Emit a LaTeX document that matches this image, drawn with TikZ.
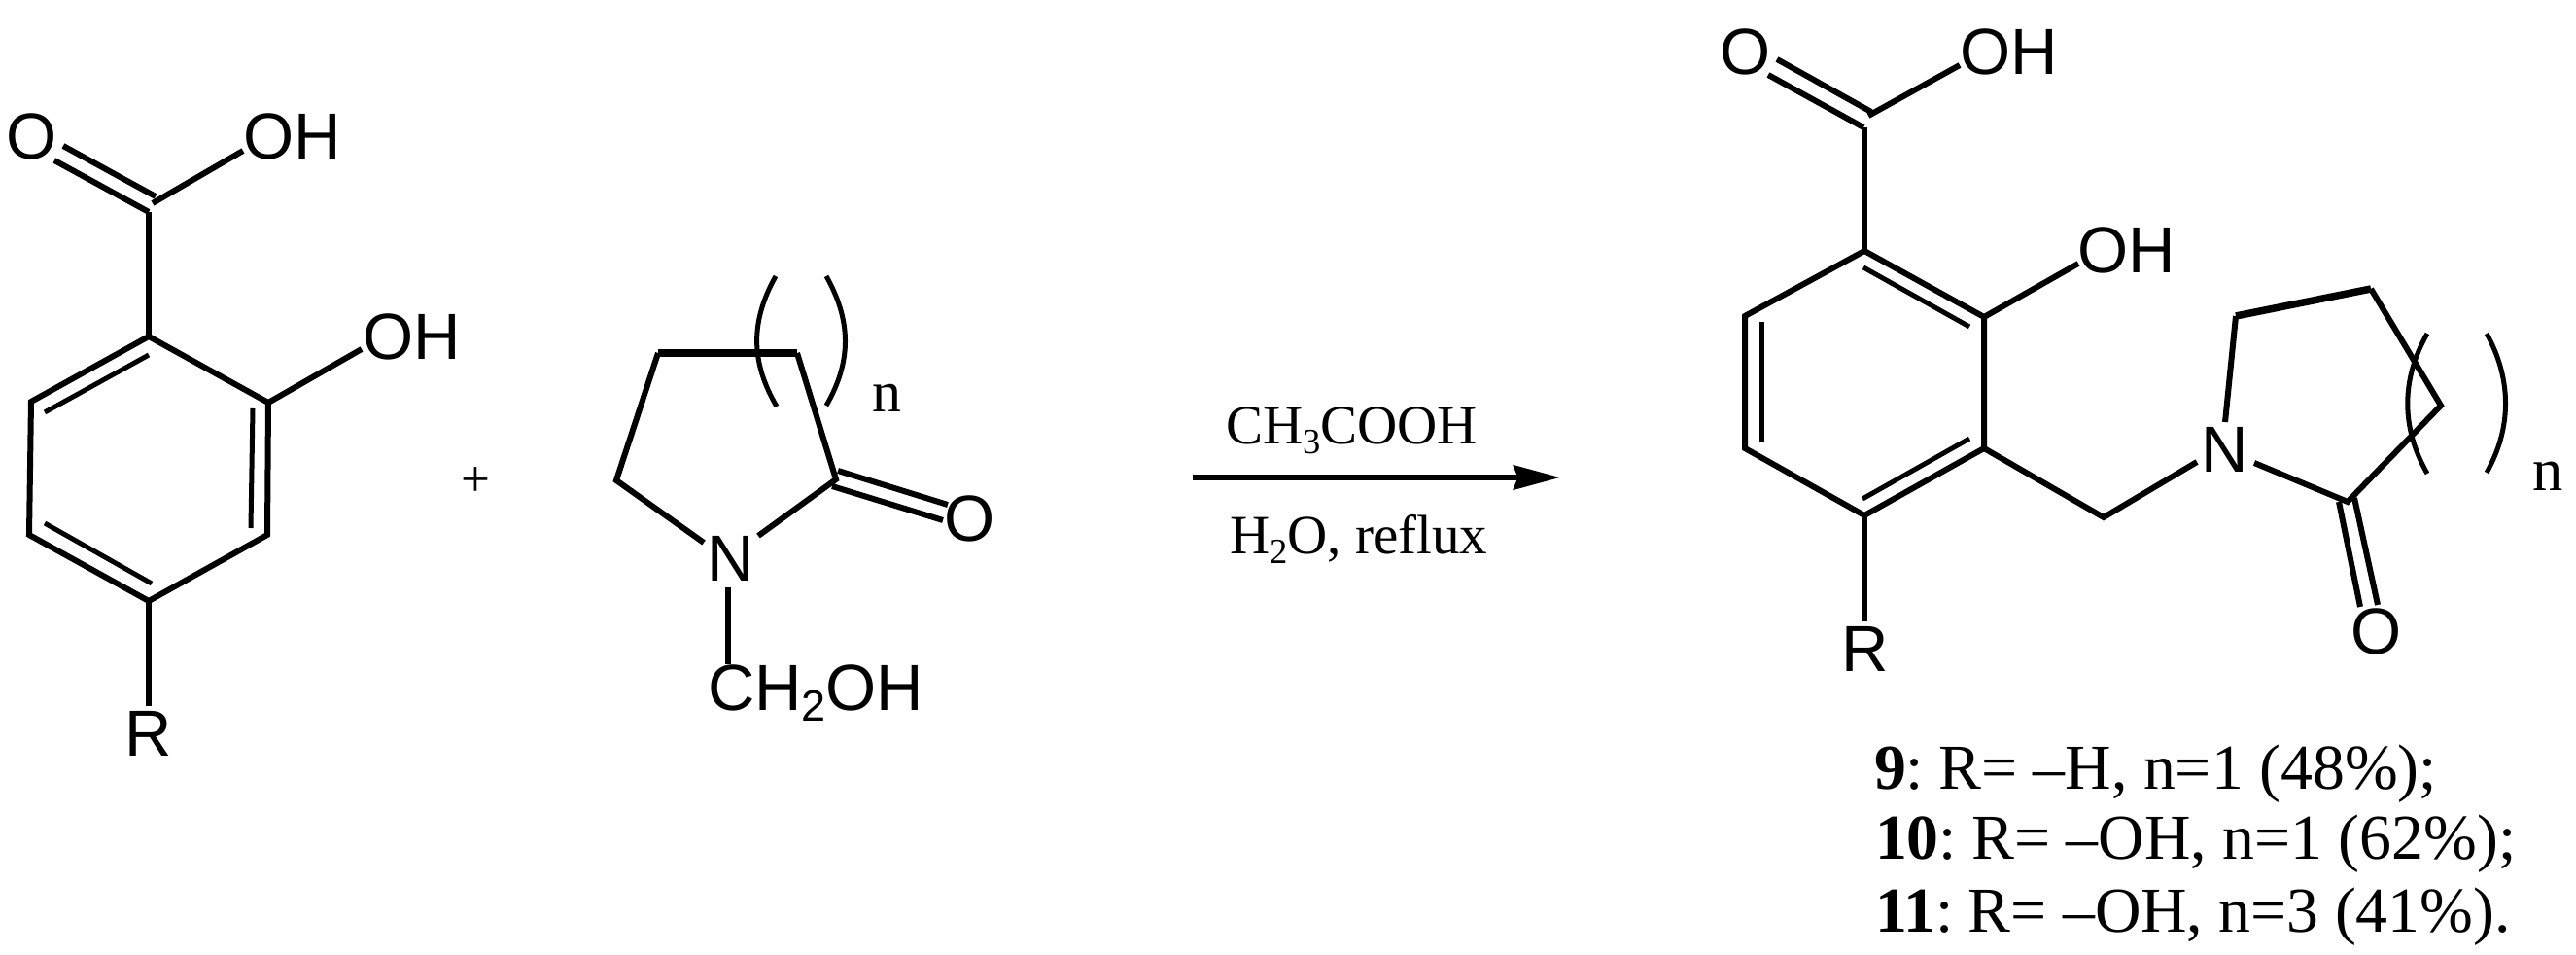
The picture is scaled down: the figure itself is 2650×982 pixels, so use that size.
\documentclass[tikz,border=0pt]{standalone}
\usepackage{fontspec}
\setmainfont{Liberation Serif}
\newfontfamily\arialf{Liberation Sans}
\usetikzlibrary{arrows.meta}
\newcommand{\lowtwo}[2]{\raisebox{#2}{\fontsize{#1}{#1}\selectfont 2}}
\newcommand{\lowthree}[2]{\raisebox{#2}{\fontsize{#1}{#1}\selectfont 3}}
\tikzset{
  bond/.style={line width=1.2pt,line join=miter,line cap=butt,black},
  heavybond/.style={line width=1.5pt,line cap=butt,black},
  inner/.style={line width=1pt,line cap=butt,black},
  paren/.style={line width=1pt,line cap=butt,black},
  atom/.style={inner sep=0pt,outer sep=0pt,anchor=base,font=\arialf\fontsize{13.4}{15}\selectfont},
  atomw/.style={atom,anchor=base west},
  serif/.style={inner sep=0pt,outer sep=0pt,font=\fontsize{11.4}{13}\selectfont},
  idx/.style={inner sep=0pt,outer sep=0pt,anchor=base,font=\fontsize{12}{14}\selectfont},
  yieldline/.style={inner sep=0pt,outer sep=0pt,anchor=base west,font=\fontsize{13.15}{15}\selectfont},
  rxnarrow/.style={line width=1.25pt,black,-{Stealth[length=9.6pt,width=5pt,inset=0.9pt]}}
}
\begin{document}
\begin{tikzpicture}[x=0.2pt,y=-0.2pt]
\useasboundingbox (0,0) rectangle (2650,982);
%% ---------- left acid ----------
\coordinate (a1) at (153,346);\coordinate (a2) at (276,414);\coordinate (a3) at (275,550);
\coordinate (a4) at (153,618);\coordinate (a5) at (30,550);\coordinate (a6) at (32,413);
\coordinate (aC) at (153,207);\coordinate (aCb) at (153,218);
\coordinate (aC1) at (160,202);\coordinate (aC2) at (153,218);
\coordinate (aO1) at (65,150);\coordinate (aO2) at (56,165);
\coordinate (aCo) at (157,209);\coordinate (aOHe) at (250,155);
\coordinate (aOH2e) at (372,359);\coordinate (aRe) at (153,726);
\coordinate (ai1) at (153,365);\coordinate (ai2) at (46,424);
\coordinate (ai3) at (260,420);\coordinate (ai4) at (258,543);
\coordinate (ai5) at (46,538);\coordinate (ai6) at (156,600);
\node[atom] (aO) at (33,164) {O};
\node[atom] (aOH) at (301,164) {OH};
\node[atom] (aOH2) at (424,370) {OH};
\node[atom] (aR) at (153,778) {R};
\draw[bond] (a1)--(a2)--(a3)--(a4)--(a5)--(a6)--cycle;
\draw[bond] (aCb)--(a1);
\draw[bond] (aO1)--(aC1);
\draw[bond] (aO2)--(aC2);
\draw[bond] (aCo)--(aOHe);
\draw[bond] (a2)--(aOH2e);
\draw[bond] (a4)--(aRe);
\draw[inner] (ai1)--(ai2);
\draw[inner] (ai3)--(ai4);
\draw[inner] (ai5)--(ai6);
%% ---------- plus ----------
\node[inner sep=0pt,outer sep=0pt,font=\fontsize{10.6}{12}\selectfont] (plus) at (489,496) {+};
%% ---------- lactam ----------
\coordinate (b1) at (677,363);\coordinate (b2) at (820,363);\coordinate (b3) at (860,493);
\coordinate (b4) at (634,494);\coordinate (bN1) at (724,558);\coordinate (bN2) at (780,551);
\coordinate (bC1) at (862,484);\coordinate (bC2) at (856,500);
\coordinate (bO1) at (975,519);\coordinate (bO2) at (970,535);
\coordinate (bN3) at (749,604);\coordinate (bCH) at (749,683);
\node[atom] (bN) at (752,598) {N};
\node[atom] (bO) at (998,557) {O};
\node[atomw] (bCHOH) at (728,731) {CH\lowtwo{9}{-2.2pt}OH};
\draw[heavybond] (b1)--(b2);
\draw[bond] (bN1)--(b4)--(b1);
\draw[bond] (b2)--(b3)--(bN2);
\draw[bond] (bC1)--(bO1);
\draw[bond] (bC2)--(bO2);
\draw[bond] (bN3)--(bCH);
\coordinate (bp1) at (798,284);\coordinate (bp2) at (799,418);
\coordinate (bp3) at (850,284);\coordinate (bp4) at (850,417);
\draw[paren] (bp1) .. controls (772,330) and (772,372) .. (bp2);
\draw[paren] (bp3) .. controls (876,330) and (876,372) .. (bp4);
\node[idx] (bn) at (912,424) {n};
%% ---------- arrow ----------
\coordinate (arrS) at (1227,491);\coordinate (arrE) at (1605,491);
\draw[rxnarrow] (arrS)--(arrE);
\node[serif,anchor=base west] (topcond) at (1261,457) {CH\lowthree{7.3}{-2pt}COOH};
\node[serif,anchor=base west] (botcond) at (1265,570) {H\lowtwo{7.3}{-2pt}O, reflux};
%% ---------- product ----------
\coordinate (c1) at (1918,258);\coordinate (c2) at (2041,326);\coordinate (c3) at (2041,461);
\coordinate (c4) at (1918,530);\coordinate (c5) at (1795,461);\coordinate (c6) at (1795,325);
\coordinate (cCb) at (1918,131);
\coordinate (cC1) at (1925,115);\coordinate (cC2) at (1917,131);
\coordinate (cO1) at (1828,61);\coordinate (cO2) at (1819,77);
\coordinate (cCo) at (1922,119);\coordinate (cOHe) at (2016,67);
\coordinate (cOH2e) at (2138,271);\coordinate (cRe) at (1918,639);
\coordinate (ci1) at (1917,275);\coordinate (ci2) at (2026,336);
\coordinate (ci3) at (1812,331);\coordinate (ci4) at (1812,455);
\coordinate (ci5) at (1916,513);\coordinate (ci6) at (2026,451);
\coordinate (cM) at (2164,532);\coordinate (cNa) at (2260,475);
\coordinate (cNb) at (2289,434);\coordinate (cr1) at (2300,325);
\coordinate (cr2) at (2439,297);\coordinate (cr3) at (2511,417);
\coordinate (cr4) at (2415,516);\coordinate (cNc) at (2319,476);
\coordinate (cL1) at (2406,516);\coordinate (cL2) at (2422,512);
\coordinate (cLO1) at (2428,624);\coordinate (cLO2) at (2446,622);
\coordinate (cp1) at (2497,343);\coordinate (cp2) at (2497,487);
\coordinate (cp3) at (2558,343);\coordinate (cp4) at (2558,486);
\node[atom] (cO) at (1796,77) {O};
\node[atom] (cOH) at (2067,77) {OH};
\node[atom] (cOH2) at (2188,281) {OH};
\node[atom] (cR) at (1919,691) {R};
\node[atom] (cN) at (2289,486) {N};
\node[atom] (cLO) at (2445,673) {O};
\draw[bond] (c1)--(c2)--(c3)--(c4)--(c5)--(c6)--cycle;
\draw[bond] (cCb)--(c1);
\draw[bond] (cO1)--(cC1);
\draw[bond] (cO2)--(cC2);
\draw[bond] (cCo)--(cOHe);
\draw[bond] (c2)--(cOH2e);
\draw[bond] (c4)--(cRe);
\draw[inner] (ci1)--(ci2);
\draw[inner] (ci3)--(ci4);
\draw[inner] (ci5)--(ci6);
\draw[bond] (c3)--(cM)--(cNa);
\draw[bond] (cNb)--(cr1);
\draw[heavybond] (cr1)--(cr2);
\draw[bond] (cr2)--(cr3)--(cr4)--(cNc);
\draw[bond] (cL1)--(cLO1);
\draw[bond] (cL2)--(cLO2);
\draw[paren] (cp1) .. controls (2470,390) and (2470,440) .. (cp2);
\draw[paren] (cp3) .. controls (2584,390) and (2584,440) .. (cp4);
\node[idx,font=\fontsize{12.5}{14}\selectfont] (cn) at (2621,505) {n};
%% ---------- yields ----------
\node[yieldline] (y9) at (1928,811) {\textbf{9}:\kern-0.1em{} R= –H, n=1 (48\%);};
\node[yieldline] (y10) at (1929,884) {\textbf{10}:\kern-0.1em{} R= –OH, n=1 (62\%);};
\node[yieldline] (y11) at (1929,958) {\textbf{11}:\kern-0.1em{} R= –OH, n=3 (41\%).};
\end{tikzpicture}
\end{document}
